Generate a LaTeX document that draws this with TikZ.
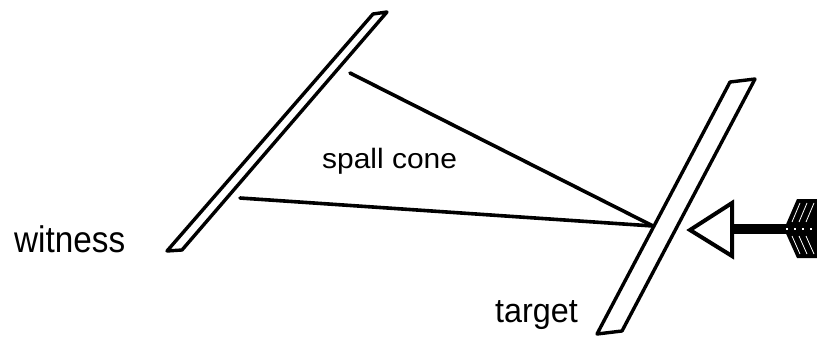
\documentclass[tikz,border=0pt]{standalone}
\usepackage{fontspec}
\setmainfont{Liberation Sans}
\begin{document}
\begin{tikzpicture}[x=1pt,y=-1pt,
  plate/.style={draw=black,line width=3.4pt,line join=round,fill=white},
  cone/.style={draw=black,line width=3.6pt,line cap=round},
  lbl/.style={anchor=base west,inner sep=0pt,text=black}]
\useasboundingbox (0,0) rectangle (817,343);
% witness plate
\draw[plate] (167,251) -- (373,14) -- (387,12) -- (182,250) -- cycle;
% target plate
\draw[plate] (597,334) -- (730,82) -- (755,79) -- (622,331) -- cycle;
% spall cone
\coordinate (wa) at (350,73);
\coordinate (wb) at (240,198);
\coordinate (apex) at (653,226);
\draw[cone] (wa) -- (apex);
\draw[cone] (wb) -- (apex);
% arrow
\draw[black,line width=4pt,line join=miter,fill=white] (690,230) -- (732,203) -- (732,256) -- cycle;
\fill[black] (732,224) rectangle (792,234);
\fill[black] (784,229) -- (797,199) -- (817,199) -- (817,258) -- (797,258) -- cycle;
\foreach \d in {0,7,14} {
  \draw[white,line width=0.8pt] (792+\d,222) -- (800+\d,203);
  \draw[white,line width=0.8pt] (792+\d,236) -- (800+\d,254);
}
\draw[white,line width=1.2pt,dash pattern=on 2pt off 6pt] (786,229) -- (817,229);
% labels
\node[lbl,font=\fontsize{37}{37}\selectfont] (witness) at (14,252) {\scalebox{0.9}[1]{witness}};
\node[lbl,font=\fontsize{28}{28}\selectfont] (spall) at (322,168) {\scalebox{1.07}[1]{spall cone}};
\node[lbl,font=\fontsize{34}{34}\selectfont] (target) at (495,322) {\scalebox{0.95}[1]{target}};
\end{tikzpicture}
\end{document}
